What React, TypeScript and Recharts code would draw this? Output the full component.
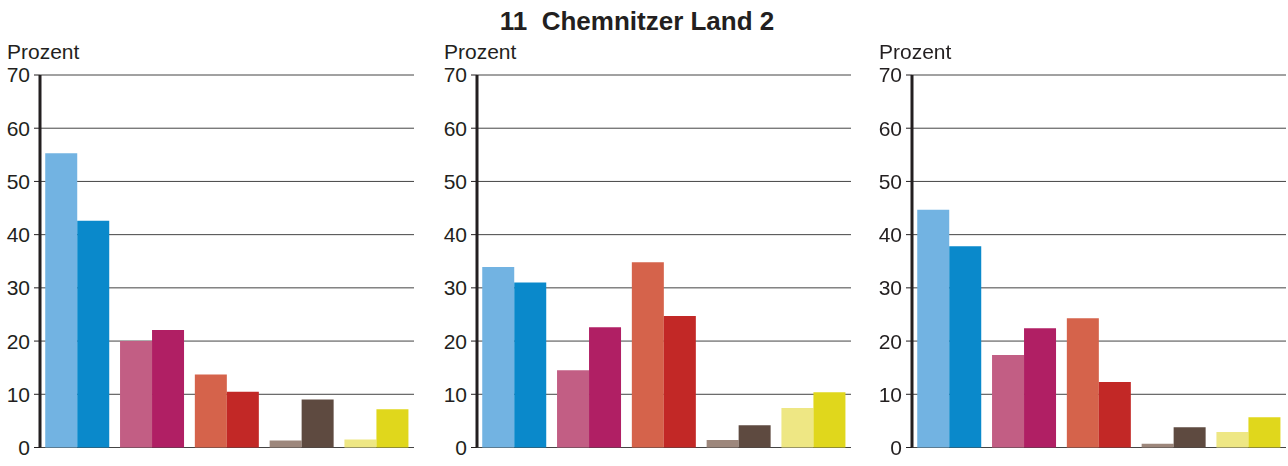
import React from 'react';
import { Bar, BarChart, CartesianGrid, Cell, XAxis, YAxis } from 'recharts';

const groups = ['G1', 'G2', 'G3', 'G4', 'G5'];
const lightColors = ['#72B3E2', '#C25E84', '#D5634B', '#9D877C', '#EEE784'];
const darkColors = ['#0A89CB', '#B01F64', '#C22826', '#5E4A40', '#E0D71C'];

const panel1A = [55.3, 20.0, 13.7, 1.3, 1.5];
const panel1B = [42.6, 22.1, 10.5, 9.0, 7.2];
const panel2A = [33.9, 14.5, 34.8, 1.4, 7.4];
const panel2B = [31.0, 22.6, 24.7, 4.2, 10.4];
const panel3A = [44.7, 17.4, 24.3, 0.7, 2.9];
const panel3B = [37.8, 22.4, 12.3, 3.8, 5.7];

const yTicks = [0, 10, 20, 30, 40, 50, 60, 70];
const title = '11  Chemnitzer Land 2';
const unitLabel = 'Prozent';

const ink = '#231F20';
const font = '"Liberation Sans", Arial, sans-serif';

function Panel({ a, b, left }: { a: number[]; b: number[]; left: number }) {
  const data = groups.map((g, i) => ({ name: g, a: a[i], b: b[i] }));
  return (
    <div style={{ position: 'absolute', left, top: 0, width: 437, height: 466 }}>
      <div
        style={{
          position: 'absolute',
          left: 7,
          top: 40,
          fontSize: 21,
          lineHeight: 'normal',
          color: ink,
          fontFamily: font,
        }}
      >
        {unitLabel}
      </div>
      <BarChart
        width={437}
        height={466}
        data={data}
        margin={{ top: 75, right: 23, left: 0, bottom: 18.5 }}
        barCategoryGap="7%"
        barGap={0}
      >
        <CartesianGrid horizontal vertical={false} stroke="#444" strokeWidth={1} />
        <XAxis
          dataKey="name"
          height={0}
          tick={false}
          tickLine={false}
          axisLine={{ stroke: ink, strokeWidth: 3 }}
        />
        <YAxis
          width={40}
          domain={[0, 70]}
          ticks={yTicks}
          interval={0}
          tickSize={6}
          tickMargin={4}
          tickLine={{ stroke: ink }}
          axisLine={{ stroke: ink, strokeWidth: 3 }}
          tick={{ fill: ink, fontSize: 21, fontFamily: font }}
        />
        <Bar dataKey="a" isAnimationActive={false}>
          {data.map((_, i) => (
            <Cell key={i} fill={lightColors[i]} />
          ))}
        </Bar>
        <Bar dataKey="b" isAnimationActive={false}>
          {data.map((_, i) => (
            <Cell key={i} fill={darkColors[i]} />
          ))}
        </Bar>
      </BarChart>
    </div>
  );
}

export default function App() {
  return (
    <div
      style={{
        position: 'fixed',
        left: 0,
        top: 0,
        width: 1288,
        height: 466,
        background: '#fff',
        fontFamily: font,
      }}
    >
      <div
        style={{
          position: 'absolute',
          left: 0,
          top: 6,
          width: 1274,
          textAlign: 'center',
          fontSize: 26,
          lineHeight: 'normal',
          fontWeight: 'bold',
          color: ink,
          whiteSpace: 'pre',
        }}
      >
        {title}
      </div>
      <Panel a={panel1A} b={panel1B} left={0} />
      <Panel a={panel2A} b={panel2B} left={437} />
      <Panel a={panel3A} b={panel3B} left={872} />
    </div>
  );
}
